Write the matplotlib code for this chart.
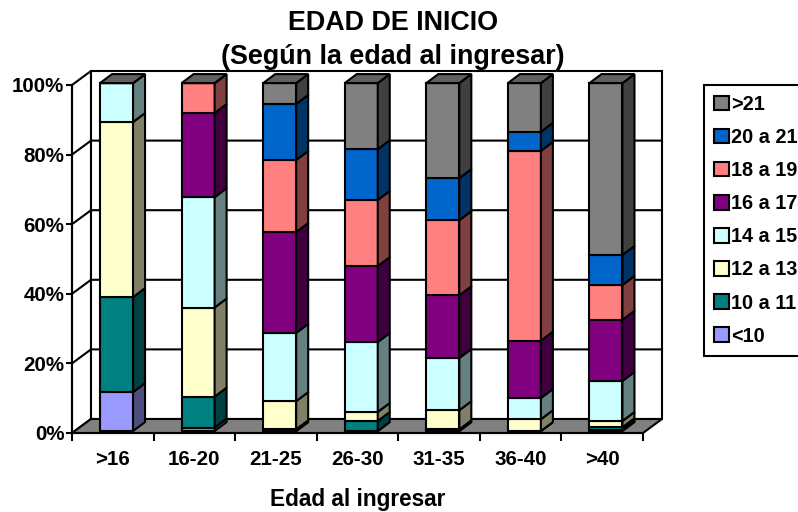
import matplotlib
matplotlib.use("Agg")
import matplotlib.pyplot as plt
from matplotlib.patches import Polygon, Patch
import numpy as np

plt.rcParams['font.family'] = ['Liberation Sans', 'DejaVu Sans']
plt.rcParams['font.weight'] = 'bold'

categories = ['>16', '16-20', '21-25', '26-30', '31-35', '36-40', '>40']
lt10  = [11.2, 1.0, 0.0, 0.0, 0.0, 0.0, 0.3]
a10_11 = [27.3, 8.9, 0.5, 2.9, 0.5, 0.0, 0.8]
a12_13 = [50.3, 25.6, 8.1, 2.6, 5.5, 3.4, 1.8]
a14_15 = [11.2, 31.7, 19.6, 20.1, 15.0, 6.1, 11.5]
a16_17 = [0.0, 24.2, 29.0, 21.8, 18.0, 16.5, 17.6]
a18_19 = [0.0, 8.6, 20.7, 19.0, 21.6, 54.5, 10.0]
a20_21 = [0.0, 0.0, 16.1, 14.6, 12.1, 5.5, 8.6]
gt21  = [0.0, 0.0, 6.0, 19.0, 27.3, 14.0, 49.4]
series_names = ['<10', '10 a 11', '12 a 13', '14 a 15', '16 a 17', '18 a 19', '20 a 21', '>21']
series_values = [lt10, a10_11, a12_13, a14_15, a16_17, a18_19, a20_21, gt21]
colors = ['#9999FF', '#008080', '#FFFFCC', '#CCFFFF', '#800080', '#FF8080', '#0066CC', '#808080']
yticks = [0, 20, 40, 60, 80, 100]
ytick_labels = ['0%', '20%', '40%', '60%', '80%', '100%']

W, H = 798, 512
fig = plt.figure(figsize=(W / 100, H / 100), dpi=100, facecolor='white')
L, R, B, T = 72, 643, 433, 85
ax = fig.add_axes([L / W, 1 - B / H, (R - L) / W, (B - T) / H], facecolor='none')
n = len(categories)
ax.set_xlim(0, n)
ax.set_ylim(0, 100)
ux = (R - L) / n
uy = (B - T) / 100

wall_dx, wall_dy = 19 / ux, 14 / uy
bar_dx, bar_dy = 12 / ux, 9 / uy
bar_w = 33 / ux
bar_off = 0.546
lift = 0.55
lw_ax = 1.5
lw_bar = 1.5


def dark(c, f=0.5):
    r, g, b = matplotlib.colors.to_rgb(c)
    return (r * f, g * f, b * f)


# back wall and side wall
ax.add_patch(Polygon([(0, 0), (wall_dx, wall_dy), (wall_dx, 100 + wall_dy), (0, 100)],
                     closed=True, fc='white', ec='k', lw=lw_ax, clip_on=False, zorder=1))
ax.add_patch(Polygon([(wall_dx, wall_dy), (n + wall_dx, wall_dy), (n + wall_dx, 100 + wall_dy),
                      (wall_dx, 100 + wall_dy)],
                     closed=True, fc='white', ec='k', lw=lw_ax, clip_on=False, zorder=1))
for v in yticks[1:-1]:
    ax.plot([0, wall_dx, n + wall_dx], [v, v + wall_dy, v + wall_dy], color='k', lw=lw_ax,
            clip_on=False, zorder=1.5)
# floor
ax.add_patch(Polygon([(0, 0), (n, 0), (n + wall_dx, wall_dy), (wall_dx, wall_dy)],
                     closed=True, fc='#808080', ec='k', lw=lw_ax, clip_on=False, zorder=2))

# stacked bars
x = np.arange(n) + bar_off
bottom = np.full(n, lift)
zo = 3
for name, vals, c in zip(series_names, series_values, colors):
    vals = np.array(vals)
    ax.bar(x, vals, bar_w, bottom=bottom, color=c, edgecolor='k', linewidth=lw_bar,
           clip_on=False, zorder=zo)
    for xi, b0, v in zip(x, bottom, vals):
        xr = xi + bar_w / 2
        ax.add_patch(Polygon([(xr, b0), (xr + bar_dx, b0 + bar_dy),
                              (xr + bar_dx, b0 + v + bar_dy), (xr, b0 + v)],
                             closed=True, fc=dark(c), ec='k', lw=lw_bar, clip_on=False, zorder=zo))
    bottom = bottom + vals
    zo += 0.1
# bar tops
for xi, t in zip(x, bottom):
    xl, xr = xi - bar_w / 2, xi + bar_w / 2
    ax.add_patch(Polygon([(xl, t), (xr, t), (xr + bar_dx, t + bar_dy), (xl + bar_dx, t + bar_dy)],
                         closed=True, fc=dark(colors[-1], 0.75), ec='k', lw=lw_bar, clip_on=False, zorder=zo))

# axes
for s in ('top', 'right'):
    ax.spines[s].set_visible(False)
for s in ('left', 'bottom'):
    ax.spines[s].set_linewidth(lw_ax)
    ax.spines[s].set_zorder(10)
ax.set_yticks(yticks)
ax.set_yticklabels(ytick_labels, fontsize=14.8, fontweight='bold')
ax.set_xticks(np.arange(n + 1))
ax.set_xticklabels([''] * (n + 1))
ax.set_xticks(np.arange(n) + 0.5, categories, minor=True, fontsize=14.8, fontweight='bold')
ax.tick_params(axis='x', which='major', length=5.5, width=lw_ax, zorder=10)
ax.tick_params(axis='x', which='minor', length=0, pad=12)
ax.tick_params(axis='y', length=4.5, width=lw_ax, pad=1)
ax.set_xlabel('Edad al ingresar', fontsize=16.3, fontweight='bold', labelpad=14)

# title
fig.text(393 / W, 1 - 23 / H, 'EDAD DE INICIO', ha='center', va='center', fontsize=19.4, fontweight='bold')
fig.text(393 / W, 1 - 57 / H, '(Según la edad al ingresar)', ha='center', va='center', fontsize=19.4, fontweight='bold')

# legend
handles = [Patch(fc=c, ec='k', lw=1.5) for c in colors[::-1]]
leg = fig.legend(handles, series_names[::-1], loc='upper left',
                 bbox_to_anchor=(704 / W, 1 - 85 / H), bbox_transform=fig.transFigure,
                 fontsize=14.3, frameon=True, fancybox=False, framealpha=1, edgecolor='k',
                 handlelength=0.75, handleheight=0.75, handletextpad=0.12,
                 labelspacing=0.71, borderpad=0.5, borderaxespad=0)
leg.get_frame().set_linewidth(lw_ax)

fig.savefig('out.png', dpi=100)
